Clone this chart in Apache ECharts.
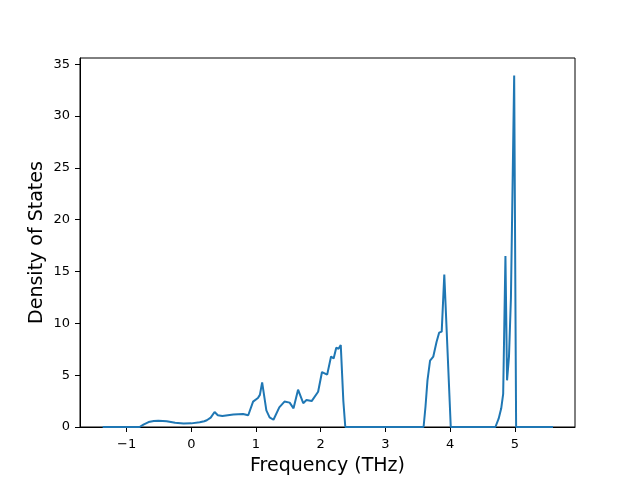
<!DOCTYPE html>
<html>
<head>
<meta charset="utf-8">
<script src="https://cdn.jsdelivr.net/npm/echarts@6/dist/echarts.min.js"></script>
<style>html,body{margin:0;padding:0;background:#fff}#c{width:640px;height:480px}</style>
</head>
<body>
<div id="c"></div>
<script>
const freq = [-1.37,-0.80,-0.74,-0.66,-0.58,-0.51,-0.44,-0.38,-0.25,-0.12,0.0,0.13,0.20,0.24,0.30,0.36,0.41,0.48,0.65,0.80,0.88,0.955,1.03,1.06,1.095,1.16,1.21,1.27,1.36,1.44,1.52,1.58,1.65,1.73,1.78,1.86,1.96,2.02,2.10,2.16,2.20,2.24,2.275,2.31,2.35,2.38,3.59,3.62,3.65,3.69,3.74,3.79,3.83,3.87,3.91,4.01,4.70,4.75,4.79,4.82,4.855,4.88,4.91,4.94,4.99,5.02,5.59];
const dos = [0,0,0.23,0.48,0.57,0.6,0.58,0.55,0.4,0.33,0.35,0.45,0.55,0.65,0.9,1.45,1.13,1.06,1.2,1.25,1.13,2.45,2.8,3.1,4.3,1.6,0.93,0.7,1.9,2.45,2.35,1.8,3.6,2.3,2.6,2.5,3.4,5.3,5.05,6.8,6.6,7.65,7.55,7.9,2.5,0,0,2.0,4.5,6.4,6.8,8.2,9.1,9.2,14.7,0,0,0.8,1.8,3.2,16.5,4.5,6.8,12.5,33.9,0,0];
const xTicks = [-1,0,1,2,3,4,5];
const yTicks = [0,5,10,15,20,25,30,35];
const xTitle = 'Frequency (THz)';
const yTitle = 'Density of States';

const chart = echarts.init(document.getElementById('c'), null, {renderer:'canvas'});
const font = 'DejaVu Sans';
const fmt = v => (v < 0 ? '\u2212' + Math.abs(v) : String(v));
chart.setOption({
  animation:false,
  grid:{left:80,right:65,top:58,bottom:53,containLabel:false,outerBoundsMode:'none',show:true,borderColor:'#000',borderWidth:1,backgroundColor:'transparent'},
  xAxis:{
    type:'value',min:-1.72,max:5.93,
    name:xTitle,nameLocation:'middle',nameGap:30,nameMoveOverlap:false,
    nameTextStyle:{fontFamily:font,fontSize:19,color:'#000'},
    axisLine:{show:true,onZero:false,lineStyle:{color:'#000',width:1}},
    axisTick:{show:true,length:5,lineStyle:{color:'#000'},customValues:xTicks},
    axisLabel:{fontFamily:font,fontSize:13,color:'#000',margin:11,customValues:xTicks,formatter:fmt},
    splitLine:{show:false}
  },
  yAxis:{
    type:'value',min:0,max:35.6,
    name:yTitle,nameLocation:'middle',nameGap:33,nameMoveOverlap:false,
    nameTextStyle:{fontFamily:font,fontSize:19,color:'#000'},
    axisLine:{show:true,onZero:false,lineStyle:{color:'#000',width:1}},
    axisTick:{show:true,length:5,lineStyle:{color:'#000'},customValues:yTicks},
    axisLabel:{fontFamily:font,fontSize:13,color:'#000',margin:10,customValues:yTicks,formatter:fmt},
    splitLine:{show:false}
  },
  series:[{
    type:'line',
    data:freq.map((f,i)=>[f,dos[i]]),
    symbol:'none',
    lineStyle:{color:'#1f77b4',width:2},
    clip:true
  }]
});
</script>
</body>
</html>
